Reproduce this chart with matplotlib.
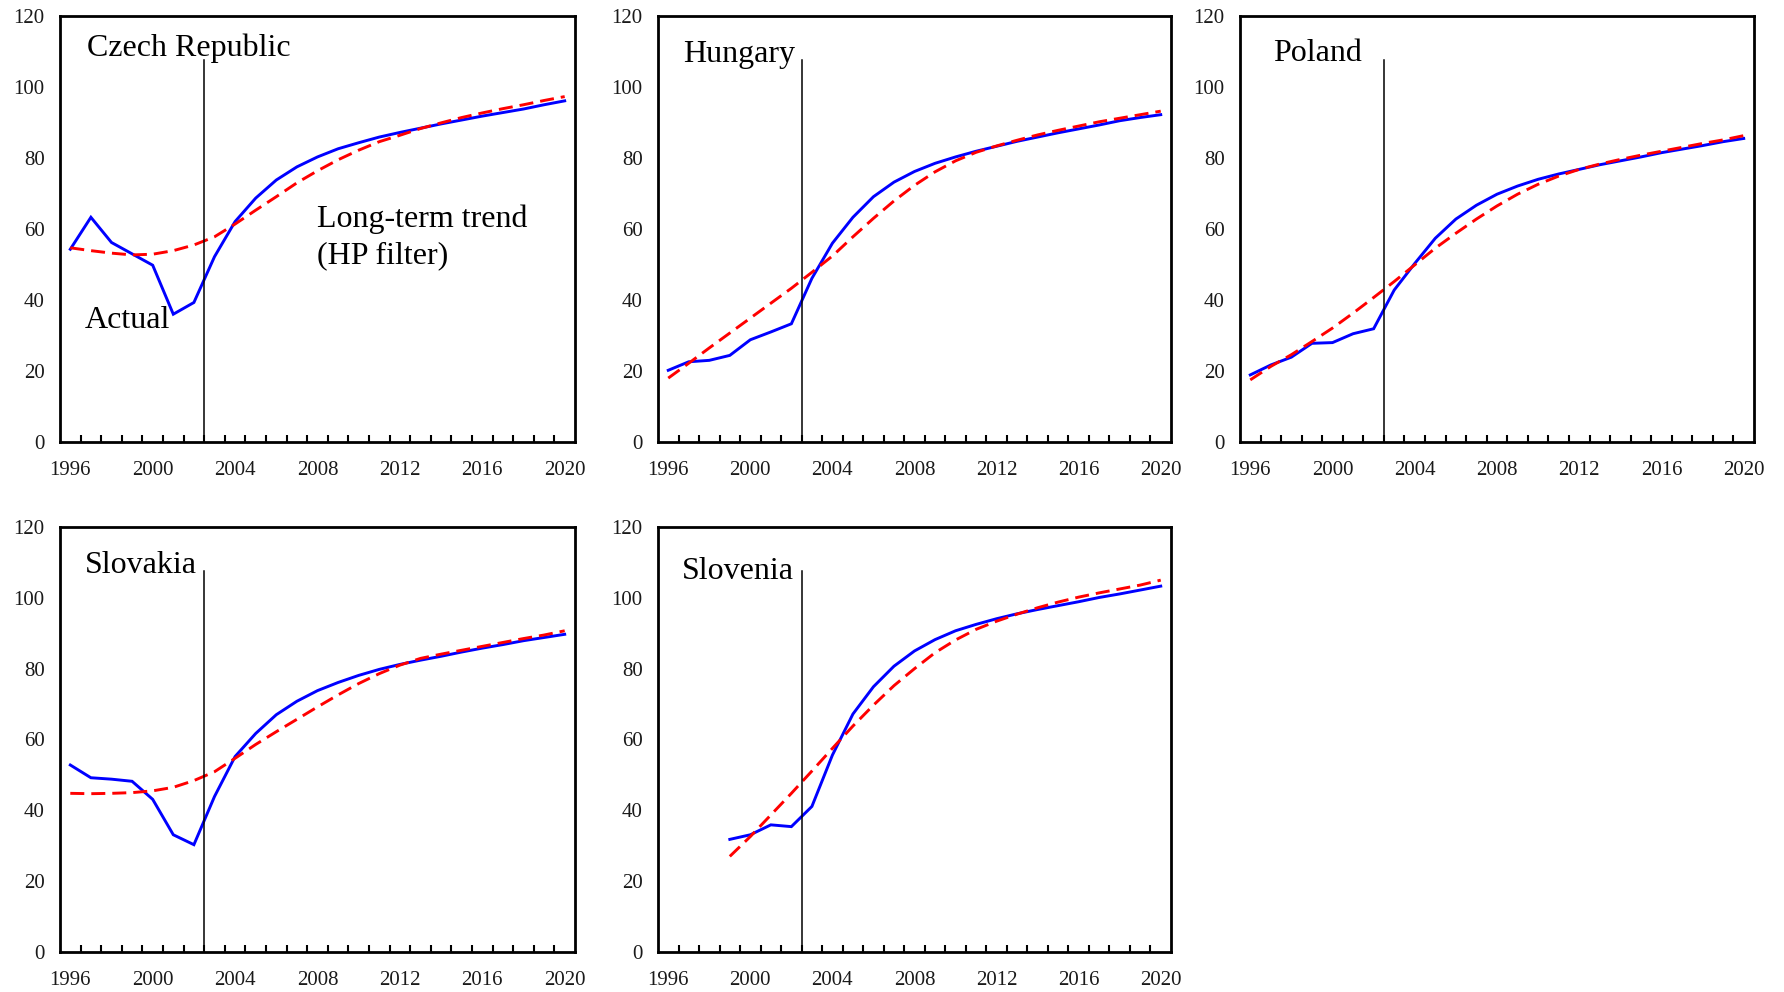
import matplotlib
matplotlib.use("Agg")
import matplotlib.pyplot as plt
import numpy as np

plt.rcParams['font.family'] = ['Liberation Serif', 'DejaVu Serif']

years = list(range(1996, 2021))
slovenia_years = list(range(1999, 2021))

czech_actual = [54.3, 63.3, 56.2, 53.0, 49.8, 36.0, 39.3, 52.2, 62.1, 68.7, 73.8, 77.5, 80.3,
                82.6, 84.3, 85.9, 87.2, 88.4, 89.6, 90.7, 91.8, 92.8, 93.8, 95.0, 96.1]
czech_trend = [54.7, 53.9, 53.2, 52.7, 52.9, 53.9, 55.5, 57.8, 61.4, 65.3, 69.1, 73.0, 76.4,
               79.5, 82.2, 84.6, 86.4, 88.3, 89.9, 91.4, 92.7, 93.9, 95.0, 96.2, 97.3]

hungary_actual = [20.2, 22.6, 23.0, 24.4, 28.8, 31.0, 33.3, 46.1, 56.0, 63.3, 69.1, 73.2, 76.2,
                  78.5, 80.3, 81.9, 83.3, 84.7, 85.9, 87.1, 88.2, 89.3, 90.5, 91.4, 92.2]
hungary_trend = [18.0, 22.2, 26.5, 30.7, 34.9, 39.1, 43.3, 47.8, 52.4, 57.8, 63.0, 67.9, 72.3,
                 76.1, 79.2, 81.6, 83.4, 85.0, 86.5, 87.8, 89.0, 90.2, 91.2, 92.2, 93.2]

poland_actual = [18.9, 21.7, 23.9, 27.8, 28.0, 30.5, 31.9, 42.8, 50.3, 57.4, 62.8, 66.7, 69.8,
                 72.1, 74.0, 75.5, 76.8, 78.1, 79.2, 80.3, 81.5, 82.5, 83.5, 84.6, 85.5]
poland_trend = [17.5, 21.3, 24.6, 28.3, 32.1, 36.3, 40.7, 45.2, 49.9, 54.6, 58.8, 62.8, 66.5,
                69.8, 72.6, 74.9, 76.8, 78.3, 79.6, 80.8, 81.9, 83.0, 84.1, 85.1, 86.3]

slovakia_actual = [52.8, 49.2, 48.8, 48.2, 43.1, 33.1, 30.3, 43.9, 55.2, 61.7, 67.0, 70.8, 73.8,
                   76.1, 78.1, 79.8, 81.2, 82.4, 83.5, 84.7, 85.8, 86.8, 87.9, 88.8, 89.7]
slovakia_trend = [44.8, 44.7, 44.8, 45.0, 45.5, 46.5, 48.4, 50.9, 54.7, 58.6, 62.2, 65.7, 69.2,
                  72.6, 75.8, 78.6, 81.0, 82.9, 84.1, 85.2, 86.3, 87.4, 88.5, 89.5, 90.7]

slovenia_actual = [31.8, 33.1, 35.9, 35.4, 41.1, 55.6, 67.2, 74.9, 80.7, 85.0, 88.2, 90.7,
                   92.5, 94.1, 95.5, 96.7, 97.8, 98.9, 100.1, 101.1, 102.2, 103.3]
slovenia_trend = [27.0, 32.6, 38.7, 44.8, 51.1, 57.5, 63.8, 69.7, 75.2, 80.0, 84.5, 88.1,
                  91.1, 93.4, 95.4, 97.2, 98.8, 100.2, 101.4, 102.5, 103.6, 105.0]

countries = ["Czech Republic", "Hungary", "Poland", "Slovakia", "Slovenia"]
yticks = [0, 20, 40, 60, 80, 100, 120]
xtick_labels = ["1996", "2000", "2004", "2008", "2012", "2016", "2020"]

series = [
    (years, czech_actual, czech_trend),
    (years, hungary_actual, hungary_trend),
    (years, poland_actual, poland_trend),
    (years, slovakia_actual, slovakia_trend),
    (slovenia_years, slovenia_actual, slovenia_trend),
]

W, H = 1784, 992
fig = plt.figure(figsize=(W / 100, H / 100), dpi=100)

# axes boxes in pixels: left, top, right, bottom
boxes = [
    (60, 16, 575, 442),
    (658, 16, 1171, 442),
    (1240, 16, 1754, 442),
    (60, 527, 575, 952),
    (658, 527, 1171, 952),
]
label_pos = [(0.80, 108.7), (0.71, 107.1), (1.13, 107.2), (0.69, 106.9), (0.67, 105.4)]

for i, (name, (yrs, act, trd), box) in enumerate(zip(countries, series, boxes)):
    l, t, r, b = box
    ax = fig.add_axes([l / W, 1 - b / H, (r - l) / W, (b - t) / H])
    xi = [y - years[0] for y in yrs]
    ax.plot(xi, act, color='#0000FF', lw=2.1, solid_joinstyle='miter')
    ax.plot(xi, trd, color='#FF0000', lw=2.1, dashes=(4.8, 2.4))
    ax.plot([6.5, 6.5], [0, 107.5], color='black', lw=1.1)
    ax.set_xlim(-0.5, len(years) - 0.5)
    ax.set_ylim(0, 120)
    ax.set_yticks(yticks)
    ax.set_xticks([years.index(int(s)) for s in xtick_labels])
    ax.set_xticklabels(xtick_labels)
    ax.set_xticks(np.arange(0.5, len(years) - 1, 1.0), minor=True)
    ax.tick_params(axis='x', which='major', length=0, pad=14, labelsize=15, labelcolor='#1a1a1a')
    ax.tick_params(axis='x', which='minor', direction='in', length=5, width=1.5, color='black')
    ax.tick_params(axis='y', length=0, pad=11, labelsize=15, labelcolor='#1a1a1a')
    for sp in ax.spines.values():
        sp.set_linewidth(2.0)
        sp.set_color('black')
    lx, ly = label_pos[i]
    ax.text(lx, ly, name, fontsize=23, color='black', va='baseline', ha='left')
    if i == 0:
        ax.text(12.0, 60.7, "Long-term trend", fontsize=23, va='baseline', ha='left')
        ax.text(12.0, 50.5, "(HP filter)", fontsize=23, va='baseline', ha='left')
        ax.text(0.68, 32.1, "Actual", fontsize=23, va='baseline', ha='left')

fig.savefig("out.png", dpi=100)
